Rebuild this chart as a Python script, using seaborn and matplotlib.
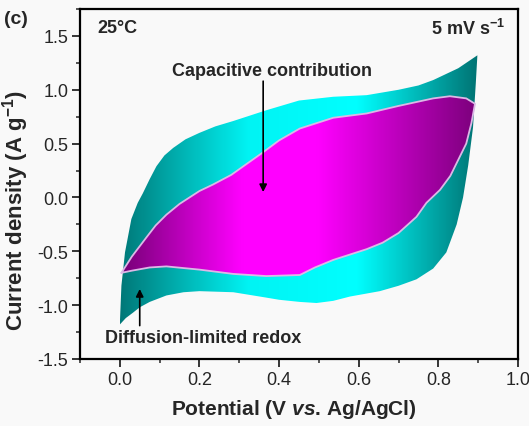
import numpy as np
import pandas as pd
import matplotlib
matplotlib.use("Agg")
import matplotlib.pyplot as plt
import seaborn as sns
from matplotlib.colors import LinearSegmentedColormap
from matplotlib.patches import Polygon
from matplotlib.ticker import MultipleLocator

# ---------------- data ----------------
# total CV (outer envelope), anodic branch, V increasing
outer_top_v = [0.000, 0.004, 0.013, 0.029, 0.045, 0.058, 0.075, 0.092, 0.112, 0.134,
               0.165, 0.200, 0.240, 0.285, 0.368, 0.450, 0.536, 0.620, 0.700, 0.750,
               0.787, 0.850, 0.898]
outer_top_i = [-1.18, -0.82, -0.51, -0.20, -0.05, 0.04, 0.17, 0.29, 0.39, 0.46,
               0.54, 0.60, 0.66, 0.71, 0.81, 0.90, 0.935, 0.95, 1.00, 1.04,
               1.09, 1.20, 1.32]
# cathodic branch, V decreasing
outer_bot_v = [0.894, 0.887, 0.875, 0.862, 0.846, 0.820, 0.787, 0.745, 0.700, 0.653,
               0.578, 0.536, 0.494, 0.452, 0.400, 0.368, 0.285, 0.200, 0.160, 0.117,
               0.075, 0.050, 0.033, 0.015, 0.000]
outer_bot_i = [1.06, 0.65, 0.30, 0.00, -0.25, -0.51, -0.66, -0.76, -0.82, -0.87,
               -0.92, -0.96, -0.98, -0.97, -0.95, -0.93, -0.88, -0.87, -0.88, -0.91,
               -0.97, -1.02, -1.07, -1.12, -1.18]
# capacitive contribution (inner region)
inner_top_v = [0.004, 0.030, 0.067, 0.090, 0.117, 0.150, 0.200, 0.234, 0.280, 0.318,
               0.360, 0.400, 0.452, 0.536, 0.620, 0.700, 0.787, 0.829, 0.870, 0.892]
inner_top_i = [-0.70, -0.55, -0.37, -0.26, -0.16, -0.06, 0.06, 0.12, 0.21, 0.31,
               0.42, 0.53, 0.64, 0.74, 0.78, 0.85, 0.92, 0.94, 0.92, 0.87]
inner_bot_v = [0.883, 0.870, 0.854, 0.830, 0.804, 0.770, 0.745, 0.700, 0.660, 0.620,
               0.536, 0.490, 0.452, 0.368, 0.285, 0.200, 0.117, 0.075, 0.030, 0.004]
inner_bot_i = [0.69, 0.50, 0.38, 0.20, 0.07, -0.05, -0.18, -0.33, -0.42, -0.48,
               -0.58, -0.65, -0.72, -0.73, -0.71, -0.67, -0.64, -0.65, -0.68, -0.70]

x_ticks = [0.0, 0.2, 0.4, 0.6, 0.8, 1.0]
y_ticks = [-1.5, -1.0, -0.5, 0.0, 0.5, 1.0, 1.5]

# ---------------- style ----------------
sns.set_style("ticks")
plt.rcParams['font.family'] = ['Liberation Sans', 'DejaVu Sans']
plt.rcParams['mathtext.fontset'] = 'custom'
plt.rcParams['mathtext.rm'] = 'Liberation Sans:bold'
plt.rcParams['mathtext.bf'] = 'Liberation Sans:bold'
plt.rcParams['mathtext.it'] = 'Liberation Sans:bold:italic'
plt.rcParams['axes.unicode_minus'] = False

bg = '#f9f9f9'
fig = plt.figure(figsize=(5.29, 4.27), dpi=100, facecolor=bg)
ax = fig.add_axes([80 / 529, 67 / 427, 438 / 529, 350 / 427])
ax.set_facecolor(bg)

outer_poly = np.column_stack([outer_top_v + outer_bot_v, outer_top_i + outer_bot_i])
inner_poly = np.column_stack([inner_top_v + inner_bot_v, inner_top_i + inner_bot_i])

cyan_cmap = LinearSegmentedColormap.from_list(
    'cy', [(0.0, '#007878'), (0.36, '#00f4f4'), (0.66, '#00ffff'), (1.0, '#007272')])
mag_cmap = LinearSegmentedColormap.from_list(
    'mg', [(0.0, '#760076'), (0.34, '#ff00ff'), (0.55, '#ff00ff'), (1.0, '#7a007a')])

grad = np.linspace(0, 1, 512).reshape(1, -1)

for poly, cmap, z in [(outer_poly, cyan_cmap, 1), (inner_poly, mag_cmap, 2)]:
    patch = Polygon(poly, closed=True, facecolor='none', edgecolor='none')
    ax.add_patch(patch)
    im = ax.imshow(grad, extent=[0.0, 0.9, -1.3, 1.4], aspect='auto', cmap=cmap,
                   origin='lower', zorder=z, interpolation='bicubic')
    im.set_clip_path(patch)

# boundary line of capacitive region
bnd = pd.DataFrame({'V': list(inner_poly[:, 0]) + [inner_poly[0, 0]],
                    'I': list(inner_poly[:, 1]) + [inner_poly[0, 1]]})
sns.lineplot(data=bnd, x='V', y='I', sort=False, estimator=None, ax=ax,
             color='#dcb8e6', lw=1.3, zorder=3)

ax.set_aspect('auto')
ax.set_xlim(-0.1, 1.0)
ax.set_ylim(-1.5, 1.75)

# ticks
ax.set_xticks(x_ticks)
ax.set_yticks(y_ticks)
ax.xaxis.set_minor_locator(MultipleLocator(0.1))
ax.yaxis.set_minor_locator(MultipleLocator(0.25))
ax.set_xticklabels([f'{t:.1f}' for t in x_ticks])
ax.set_yticklabels([f'{t:.1f}' for t in y_ticks])
ax.tick_params(which='major', direction='out', length=5.5, width=1.3, labelsize=13,
               pad=3, top=False, right=False)
ax.tick_params(which='minor', direction='out', length=3, width=1.1, top=False, right=False)
for s in ax.spines.values():
    s.set_linewidth(1.6)
    s.set_color('black')
    s.set_visible(True)

ax.set_xlabel(r'Potential (V $\mathit{vs}$. Ag/AgCl)', fontsize=15, fontweight='bold')
ax.set_ylabel(r'Current density (A g$^{\mathbf{-1}}$)', fontsize=16, fontweight='bold')
ax.xaxis.set_label_coords(0.488, -0.108)
ax.yaxis.set_label_coords(-0.112, 0.426)

# annotations
ax.text(0.039, 0.948, '25°C', transform=ax.transAxes, fontsize=13, fontweight='bold',
        ha='left', va='center')
ax.text(0.970, 0.945, r'5 mV s$^{\mathbf{-1}}$', transform=ax.transAxes, fontsize=13,
        fontweight='bold', ha='right', va='center')
fig.text(4 / 529, 1 - 20 / 427, '(c)', fontsize=14, fontweight='bold', ha='left', va='center')

ax.text(0.382, 1.18, 'Capacitive contribution', fontsize=13, fontweight='bold',
        ha='center', va='center', zorder=5)
ax.annotate('', xy=(0.36, 0.05), xytext=(0.36, 1.08),
            arrowprops=dict(arrowstyle='-|>', color='black', lw=1.2, mutation_scale=11,
                            shrinkA=0, shrinkB=0), zorder=5)
ax.text(-0.038, -1.30, 'Diffusion-limited redox', fontsize=13, fontweight='bold',
        ha='left', va='center', zorder=5)
ax.annotate('', xy=(0.05, -0.85), xytext=(0.05, -1.19),
            arrowprops=dict(arrowstyle='-|>', color='black', lw=1.2, mutation_scale=11,
                            shrinkA=0, shrinkB=0), zorder=5)

fig.savefig('out.png', dpi=100, facecolor=bg)
